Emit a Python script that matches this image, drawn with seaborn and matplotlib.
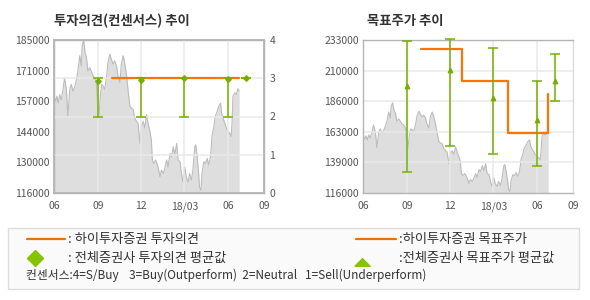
import numpy as np
import pandas as pd
import matplotlib
matplotlib.use('Agg')
import matplotlib.pyplot as plt
import seaborn as sns
from matplotlib.lines import Line2D
from matplotlib.patches import Rectangle

sns.set_theme(style='white')
plt.rcParams['font.family'] = ['Noto Sans CJK KR', 'DejaVu Sans']

# ---------------- data ----------------
START = pd.Timestamp('2017-06-01')
price_days = [0, 4, 6, 9, 12, 15, 19, 22, 26, 29, 33, 36, 40, 43, 47, 50, 54, 57, 59, 62,
              65, 68, 71, 75, 78, 82, 85, 89, 92, 94, 97, 100, 103, 106, 110, 113, 117, 120, 124, 127,
              131, 134, 138, 141, 145, 148, 152, 155, 159, 162, 166, 169, 173, 176, 180, 183, 187, 190, 194, 197,
              201, 204, 206, 209, 213, 218, 222, 225, 229, 232, 236, 239, 243, 246, 250, 253, 257, 260, 264, 267,
              270, 274, 277, 281, 284, 288, 291, 295, 297, 300, 303, 305, 308, 310, 314, 317, 321, 324, 328, 331,
              335, 338, 342, 345, 349, 351, 354, 358, 361, 365, 368, 371, 373, 375, 379, 382, 385, 388]
price_values = [159700, 157400, 159700, 156600, 160400, 158100, 162700, 168000, 162700, 150600,
                162700, 165000, 161900, 163500, 167200, 171000, 177900, 173300, 182400, 185000,
                179400, 177100, 171000, 172500, 171000, 168800, 168000, 165700, 152100, 149800,
                159700, 165000, 164200, 162700, 168000, 174800, 178600, 176300, 174100, 175600,
                173300, 168800, 165700, 174100, 177900, 174800, 168800, 162700, 155100, 154400,
                153600, 149800, 148300, 147500, 138400, 146000, 148300, 145300, 151300, 147500,
                143700, 140000, 130900, 129300, 130900, 127800, 123300, 126300, 124800, 127100,
                130900, 127800, 133900, 132400, 136900, 133100, 138400, 130900, 130100, 124800,
                121000, 127800, 123300, 121000, 124800, 121800, 126300, 136900, 137700, 132400,
                124800, 118700, 117200, 124800, 130100, 129300, 131600, 128600, 132400, 141500,
                146000, 150600, 152800, 155100, 156600, 152100, 149800, 147500, 145300, 143700,
                143000, 141500, 147500, 159700, 161200, 160400, 163000, 161900]

opinion_dates = ['2017-10-01', '2018-06-24']
opinion_values = [3, 3]
target_dates = ['2017-10-01', '2017-12-26', '2018-04-01', '2018-06-24']
target_values = [226000, 202000, 162000, 192000]

cons_dates = ['2017-09-01', '2017-12-01', '2018-03-01', '2018-06-01', '2018-07-09']
cons_op_mean = [2.93, 2.96, 3.0, 2.98, 3.0]
cons_op_min = [2, 2, 2, 2, 3]
cons_op_max = [3, 3, 3, 3, 3]
cons_tp_mean = [198000, 210000, 189000, 172000, 202000]
cons_tp_min = [132000, 152000, 146000, 137000, 186000]
cons_tp_max = [232000, 234000, 227000, 202000, 222000]

x_tick_dates = ['2017-06-01', '2017-09-01', '2017-12-01', '2018-03-01', '2018-06-01', '2018-08-15']
x_tick_labels = ['06', '09', '12', '18/03', '06', '09']
left_y_labels = ['116000', '130000', '144000', '157000', '171000', '185000']
right_y_labels = ['116000', '139000', '163000', '186000', '210000', '233000']
opinion_ticks = [0, 1, 2, 3, 4]

# ---------------- style ----------------
ORANGE = '#ff7300'
GREEN = '#74b000'
FILL = '#dedede'
PLINE = '#bcbcbc'
GRID = '#e9e9e9'
SPINE = '#b4b4b4'
TICK = '#555555'

price_df = pd.DataFrame({'date': START + pd.to_timedelta(price_days, unit='D'),
                         'price': price_values})
op_df = pd.DataFrame({'date': pd.to_datetime(opinion_dates), 'v': opinion_values})
tp_df = pd.DataFrame({'date': pd.to_datetime(target_dates), 'v': target_values})
cons_x = pd.to_datetime(cons_dates)
xt = pd.to_datetime(x_tick_dates)

W, H = 590, 300
fig = plt.figure(figsize=(W / 100, H / 100), dpi=100)
fig.patch.set_facecolor('white')


def fx(px):
    return px / W


def fy(py):
    return 1 - py / H


axL = fig.add_axes([fx(54), fy(193), 210 / W, 153 / H])
axR = fig.add_axes([fx(363), fy(193), 210 / W, 153 / H])


def style_base(ax, ymin, ymax, labels):
    ax.set_xlim(xt[0], xt[-1])
    ax.set_ylim(ymin, ymax)
    ax.set_yticks(np.linspace(ymin, ymax, len(labels)))
    ax.set_yticklabels(labels)
    ax.set_xticks(xt)
    ax.set_xticklabels(x_tick_labels)
    ax.set_xlabel('')
    ax.set_ylabel('')
    ax.tick_params(axis='x', length=3, color=SPINE, pad=3, labelsize=7.5, labelcolor=TICK)
    ax.tick_params(axis='y', length=0, pad=3, labelsize=7.5, labelcolor=TICK)
    for s in ax.spines.values():
        s.set_color(SPINE)
        s.set_linewidth(1)


def draw_price(ax, ymin):
    ax.fill_between(price_df['date'], price_df['price'], ymin, color=FILL, lw=0, zorder=1)
    sns.lineplot(data=price_df, x='date', y='price', ax=ax, color=PLINE, lw=0.8, zorder=2)


def draw_grid(ax, yvals):
    for y in yvals:
        ax.axhline(y, color=GRID, lw=1.1, zorder=2.5)
    for x in xt[1:-1]:
        ax.axvline(x, color=GRID, lw=1.1, zorder=2.5)


# ---- left chart ----
draw_price(axL, 116000)
style_base(axL, 116000, 185000, left_y_labels)
ax2 = axL.twinx()
ax2.set_ylim(0, 4)
ax2.set_yticks(opinion_ticks)
ax2.set_yticklabels([str(t) for t in opinion_ticks])
ax2.tick_params(axis='y', length=0, pad=4, labelsize=7.5, labelcolor=TICK)
for s in ax2.spines.values():
    s.set_color(SPINE)
draw_grid(ax2, opinion_ticks[1:-1])
sns.lineplot(data=op_df, x='date', y='v', ax=ax2, color=ORANGE, lw=1.6,
             drawstyle='steps-post', zorder=4)
op_mean = np.array(cons_op_mean)
ax2.errorbar(cons_x, op_mean,
             yerr=[op_mean - np.array(cons_op_min), np.array(cons_op_max) - op_mean],
             fmt='D', ms=2.8, color=GREEN, ecolor=GREEN, elinewidth=1.1,
             capsize=3.3, capthick=1.1, zorder=5)
ax2.set_ylabel('')
ax2.set_xlabel('')
ax2.set_xlim(xt[0], xt[-1])
ax2.set_ylim(0, 4)

# ---- right chart ----
draw_price(axR, 116000)
style_base(axR, 116000, 233000, right_y_labels)
draw_grid(axR, np.linspace(116000, 233000, len(right_y_labels))[1:-1])
axR.spines['right'].set_color('#dcdcdc')
sns.lineplot(data=tp_df, x='date', y='v', ax=axR, color=ORANGE, lw=1.6,
             drawstyle='steps-post', zorder=4)
tp_mean = np.array(cons_tp_mean)
axR.errorbar(cons_x, tp_mean,
             yerr=[tp_mean - np.array(cons_tp_min), np.array(cons_tp_max) - tp_mean],
             fmt='^', ms=3.2, color=GREEN, ecolor=GREEN, elinewidth=1.1,
             capsize=3.3, capthick=1.1, zorder=5, clip_on=False)
axR.set_xlabel('')
axR.set_ylabel('')
axR.set_xlim(xt[0], xt[-1])
axR.set_ylim(116000, 233000)

# ---- titles ----
fig.text(fx(54), fy(21), '투자의견(컨센서스) 추이', fontsize=9.6, fontweight='bold',
         color='#333333', ha='left', va='center')
fig.text(fx(367), fy(21), '목표주가 추이', fontsize=9.6, fontweight='bold',
         color='#333333', ha='left', va='center')

# ---- legend box ----
fig.add_artist(Rectangle((fx(8), fy(289)), (579 - 8) / W, (289 - 228) / H,
                         transform=fig.transFigure, facecolor='#fafafa',
                         edgecolor='#dcdcdc', lw=1, zorder=0))
LEG_OR = '#ee7000'
LEG_GR = '#86c400'
LT = '#333333'
LFS = 9.5
fig.add_artist(Line2D([fx(27), fx(65)], [fy(239), fy(239)], color=LEG_OR, lw=1.6,
                      transform=fig.transFigure))
fig.text(fx(68), fy(239), ': 하이투자증권 투자의견', fontsize=LFS, color=LT, va='center')
fig.add_artist(Line2D([fx(35)], [fy(258)], marker='D', ms=8, color=LEG_GR, lw=0,
                      transform=fig.transFigure))
fig.text(fx(68), fy(258), ': 전체증권사 투자의견 평균값', fontsize=LFS, color=LT, va='center')
fig.add_artist(Line2D([fx(356), fx(396)], [fy(239), fy(239)], color=LEG_OR, lw=1.6,
                      transform=fig.transFigure))
fig.text(fx(399), fy(239), ':하이투자증권 목표주가', fontsize=LFS, color=LT, va='center')
tri = [(-1, -0.5), (1, -0.5), (0, 0.5), (-1, -0.5)]
fig.add_artist(Line2D([fx(362)], [fy(262)], marker=tri, ms=11, color=LEG_GR, lw=0,
                      transform=fig.transFigure))
fig.text(fx(399), fy(258), ':전체증권사 목표주가 평균값', fontsize=LFS, color=LT, va='center')
fig.text(fx(26), fy(275),
         '컨센서스:4=S/Buy    3=Buy(Outperform)  2=Neutral   1=Sell(Underperform)',
         fontsize=8.5, color=LT, va='center')

fig.savefig('out.png', dpi=100)
